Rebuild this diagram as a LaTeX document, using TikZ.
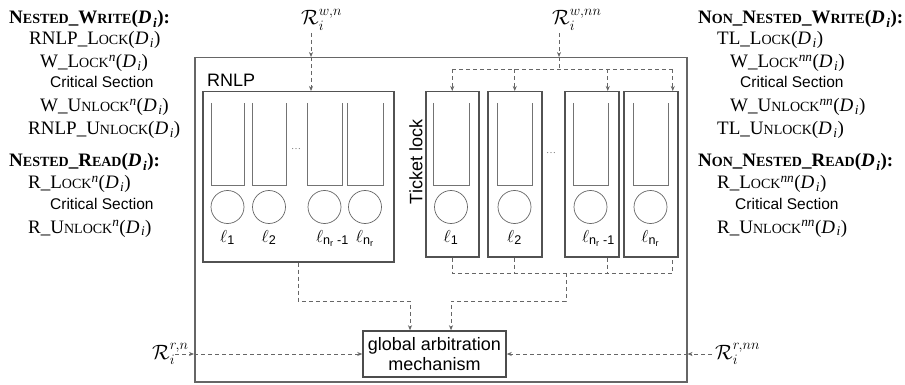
\documentclass[tikz,border=0pt]{standalone}
\usepackage{amsmath}
\usepackage{fontspec}
\setmainfont{Liberation Serif}
\setsansfont{Liberation Sans}
\usetikzlibrary{arrows.meta,positioning}

% small caps made by hand (first letter full size, rest smaller capitals)
\newcommand{\fsc}[2]{#1{\fontsize{14}{14}\selectfont #2}}
\newcommand{\Di}{(\textit{D}\textsubscript{\kern1.5pt\textit{i}})}
\newcommand{\supn}[1]{\textsuperscript{\textit{#1}}}

\tikzset{
  algo/.style={anchor=base west, inner sep=0pt, font=\fontsize{19}{19}\selectfont},
  algohead/.style={anchor=base west, inner sep=0pt, font=\fontsize{19}{19}\selectfont\bfseries},
  crit/.style={anchor=base west, inner sep=0pt, font=\sffamily\fontsize{15.5}{15.5}\selectfont},
  outerbox/.style={draw=black!60, line width=1.5pt, inner sep=0pt},
  lockbox/.style={draw=black!68, line width=1.5pt, inner sep=0pt, anchor=north west},
  queue/.style={draw=black!55, line width=0.8pt},
  lockc/.style={circle, draw=black!60, line width=0.7pt, minimum size=33pt, inner sep=0pt},
  lbl/.style={inner sep=0pt, font=\fontsize{18}{18}\selectfont},
  rlbl/.style={anchor=base west, inner sep=0pt, font=\fontsize{20}{20}\selectfont},
  sflbl/.style={inner sep=0pt, font=\sffamily\fontsize{18}{20}\selectfont},
  flow/.style={draw=black!60, line width=0.8pt, dash pattern=on 4pt off 3pt,
    -{Stealth[length=5pt,width=4pt]}},
  flowline/.style={flow, -},
}

\begin{document}
\begin{tikzpicture}[x=1pt, y=-1pt]
  \useasboundingbox (0,0) rectangle (905,385);

  % nested requests
  \node[algohead] (nw)  at (9,24)   {\fsc{N}{ESTED}\_\fsc{W}{RITE}\Di:};
  \node[algo]     (nw1) at (29,45)  {RNLP\_\fsc{L}{OCK}\Di};
  \node[algo]     (nw2) at (40,68)  {W\_\fsc{L}{OCK}\supn{n}\Di};
  \node[crit]     (nw3) at (50,88)  {Critical Section};
  \node[algo]     (nw4) at (40,112) {W\_\fsc{U}{NLOCK}\supn{n}\Di};
  \node[algo]     (nw5) at (28,135) {RNLP\_\fsc{U}{NLOCK}\Di};
  \node[algohead] (nr)  at (9,167)  {\fsc{N}{ESTED}\_\fsc{R}{EAD}\Di:};
  \node[algo]     (nr1) at (28,189) {R\_\fsc{L}{OCK}\supn{n}\Di};
  \node[crit]     (nr2) at (50,209) {Critical Section};
  \node[algo]     (nr3) at (28,233) {R\_\fsc{U}{NLOCK}\supn{n}\Di};

  % non-nested requests
  \node[algohead] (nnw)  at (698,24)  {\fsc{N}{ON}\_\fsc{N}{ESTED}\_\fsc{W}{RITE}\Di:};
  \node[algo]     (nnw1) at (717,45)  {TL\_\fsc{L}{OCK}\Di};
  \node[algo]     (nnw2) at (730,68)  {W\_\fsc{L}{OCK}\supn{nn}\Di};
  \node[crit]     (nnw3) at (740,88)  {Critical Section};
  \node[algo]     (nnw4) at (730,112) {W\_\fsc{U}{NLOCK}\supn{nn}\Di};
  \node[algo]     (nnw5) at (717,135) {TL\_\fsc{U}{NLOCK}\Di};
  \node[algohead] (nnr)  at (698,167) {\fsc{N}{ON}\_\fsc{N}{ESTED}\_\fsc{R}{EAD}\Di:};
  \node[algo]     (nnr1) at (717,189) {R\_\fsc{L}{OCK}\supn{nn}\Di};
  \node[crit]     (nnr2) at (735,209) {Critical Section};
  \node[algo]     (nnr3) at (717,233) {R\_\fsc{U}{NLOCK}\supn{nn}\Di};

  % boxes
  \node[outerbox, anchor=north west, minimum width=492pt, minimum height=324pt] (outer) at (194,57) {};
  \node[lockbox, minimum width=191pt, minimum height=170pt] (rnlp) at (202,91) {};
  \node[sflbl, anchor=base west] (rnlpt) at (207,87) {RNLP};
  \node[lockbox, minimum width=53pt, minimum height=165pt] (t1) at (425,91) {};
  \node[lockbox, minimum width=54pt, minimum height=165pt] (t2) at (487,91) {};
  \node[lockbox, minimum width=54pt, minimum height=165pt] (t3) at (564,91) {};
  \node[lockbox, minimum width=54pt, minimum height=165pt] (t4) at (623,91) {};
  \node[sflbl, rotate=90] (tlt) at (416,162) {Ticket lock};
  \node[draw=black!70, line width=1.5pt, minimum width=143pt, minimum height=46pt,
    sflbl, align=center] (gam) at (434.5,354) {global arbitration\\mechanism};

  % RNLP queues and locks
  \draw[queue] (211,103) |- (244,185) -- (244,103);
  \draw[queue] (252,103) |- (286,185) -- (286,103);
  \draw[queue] (307,103) |- (342,185) -- (342,103);
  \draw[queue] (347,103) |- (383,185) -- (383,103);
  \node[text=black!55, inner sep=0pt] (rdots) at (296,149) {\dots};
  \node[lockc] (c1) at (227.5,207) {};
  \node[lockc] (c2) at (269,207) {};
  \node[lockc] (c3) at (324.5,207) {};
  \node[lockc] (c4) at (365,207) {};
  \node[lbl, below=6pt of c1] (l1) {$\ell_{\textsf{1}}$};
  \node[lbl, below=6pt of c2] (l2) {$\ell_{\textsf{2}}$};
  \node[lbl, below=6pt of c3, xshift=8pt] (l3) {$\ell_{\textsf{n}_{\textsf{r}}\textsf{ -1}}$};
  \node[lbl, below=6pt of c4] (l4) {$\ell_{\textsf{n}_{\textsf{r}}}$};

  % ticket lock queues and locks
  \draw[queue] (433,103) |- (469,185) -- (469,103);
  \draw[queue] (497,103) |- (532,185) -- (532,103);
  \draw[queue] (573,103) |- (608,185) -- (608,103);
  \draw[queue] (633,103) |- (668,185) -- (668,103);
  \node[text=black!55, inner sep=0pt] (tdots) at (551,153) {\dots};
  \node[lockc] (k1) at (451,207) {};
  \node[lockc] (k2) at (514.5,207) {};
  \node[lockc] (k3) at (590.5,207) {};
  \node[lockc] (k4) at (650.5,207) {};
  \node[lbl, below=6pt of k1] (m1) {$\ell_{\textsf{1}}$};
  \node[lbl, below=6pt of k2] (m2) {$\ell_{\textsf{2}}$};
  \node[lbl, below=6pt of k3, xshift=8pt] (m3) {$\ell_{\textsf{n}_{\textsf{r}}\textsf{ -1}}$};
  \node[lbl, below=6pt of k4] (m4) {$\ell_{\textsf{n}_{\textsf{r}}}$};

  % request labels
  \node[rlbl] (rwn)  at (301,25)  {$\mathcal{R}_i^{w,n}$};
  \node[rlbl] (rwnn) at (552,25)  {$\mathcal{R}_i^{w,nn}$};
  \node[rlbl] (rrn)  at (152,359) {$\mathcal{R}_i^{r,n}$};
  \node[rlbl] (rrnn) at (715,359) {$\mathcal{R}_i^{r,nn}$};
  \coordinate (rwn-s)  at (311,33);
  \coordinate (rwnn-s) at (559,33);
  \coordinate (rrn-e)  at (175,354);
  \coordinate (rrnn-e) at (712,354);

  % write requests, nested
  \draw[flow] (rwn-s) -- (rwn-s |- outer.north);
  \draw[flow] (rwn-s |- outer.north) -- (rwn-s |- rnlp.north);

  % write requests, non-nested
  \coordinate (split) at (559,69);
  \coordinate (t3in) at ([xshift=16pt]t3.north);
  \coordinate (t4in) at ([xshift=22pt]t4.north);
  \draw[flow] (rwnn-s) -- (rwnn-s |- outer.north);
  \draw[flowline] (rwnn-s |- outer.north) -- (split);
  \draw[flowline] (t1.north |- split) -- (t4in |- split);
  \draw[flow] (t1.north |- split) -- (t1.north);
  \draw[flow] (t2.north |- split) -- (t2.north);
  \draw[flow] (t3in |- split) -- (t3in);
  \draw[flow] (t4in |- split) -- (t4in);

  % towards the global mechanism
  \coordinate (t3out) at ([xshift=16pt]t3.south);
  \coordinate (t4out) at ([xshift=22pt]t4.south);
  \coordinate (tmerge) at (566,273);
  \coordinate (tturn) at (566,301);
  \coordinate (gin1) at ([xshift=-24.5pt]gam.north);
  \coordinate (gin2) at ([xshift=16.5pt]gam.north);
  \draw[flowline] (t1.south) -- (t1.south |- tmerge) -- (t4out |- tmerge) -- (t4out);
  \draw[flowline] (t2.south) -- (t2.south |- tmerge);
  \draw[flowline] (t3out) -- (t3out |- tmerge);
  \draw[flow] (tmerge) -- (tturn) -| (gin2);
  \draw[flow] (rnlp.south) -- (rnlp.south |- tturn) -| (gin1);

  % read requests
  \draw[flow] (rrn-e) -- (rrn-e -| outer.west);
  \draw[flow] (rrn-e -| outer.west) -- (gam.west);
  \draw[flow] (rrnn-e) -- (rrnn-e -| outer.east);
  \draw[flow] (rrnn-e -| outer.east) -- (gam.east);
\end{tikzpicture}
\end{document}
